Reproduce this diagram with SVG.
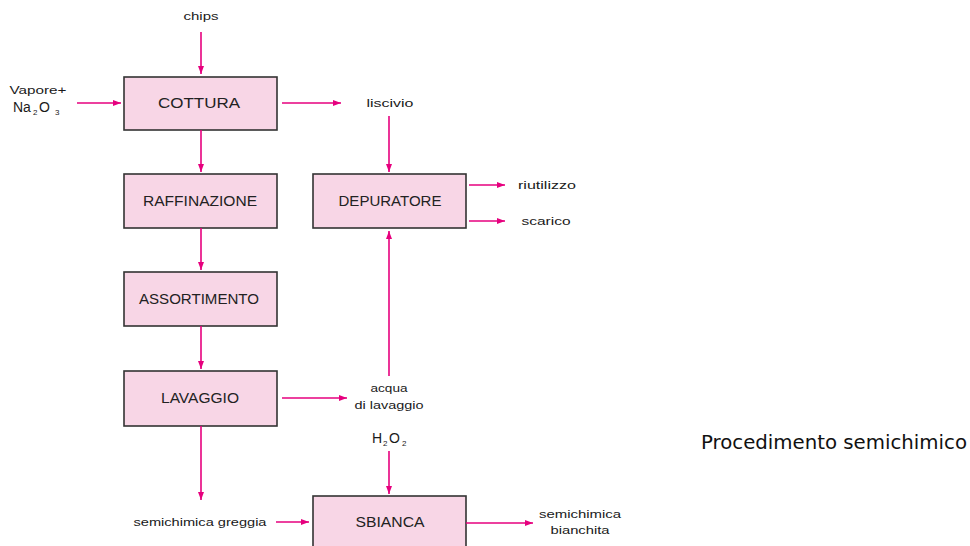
<svg xmlns="http://www.w3.org/2000/svg" width="970" height="546" viewBox="0 0 970 546">
  <style>
    .box { fill: #f8d6e6; stroke: #333333; stroke-width: 1.6; }
    .lbl { font-family: "Liberation Sans", Arial, sans-serif; font-size: 14px; fill: #222222; text-anchor: middle; }
    .sm { font-family: "Liberation Sans", Arial, sans-serif; font-size: 11.5px; fill: #1a1a1a; text-anchor: middle; }
    .chem { font-family: "Liberation Sans", Arial, sans-serif; font-size: 14px; fill: #1a1a1a; }
    .sub { font-size: 8px; }
    .flow { stroke: #e6007e; stroke-width: 1.6; fill: none; marker-end: url(#head); }
    .cap { font-family: "DejaVu Sans", Verdana, sans-serif; font-size: 19.5px; fill: #111111; }
  </style>
  <defs>
    <marker id="head" markerUnits="userSpaceOnUse" markerWidth="8" markerHeight="6" refX="8" refY="3" orient="auto">
      <path d="M0,0 L8,3 L0,6 z" fill="#e6007e"/>
    </marker>
  </defs>
  <rect width="970" height="546" fill="#ffffff"/>

  <!-- process steps -->
  <g id="cottura">
    <rect class="box" x="124" y="77" width="153" height="53"/>
    <text class="lbl" x="199" y="108" textLength="82" lengthAdjust="spacingAndGlyphs">COTTURA</text>
  </g>
  <g id="raffinazione">
    <rect class="box" x="124" y="174" width="153" height="54"/>
    <text class="lbl" x="200" y="206" textLength="114" lengthAdjust="spacingAndGlyphs">RAFFINAZIONE</text>
  </g>
  <g id="assortimento">
    <rect class="box" x="124" y="272" width="153" height="54"/>
    <text class="lbl" x="199" y="304" textLength="120" lengthAdjust="spacingAndGlyphs">ASSORTIMENTO</text>
  </g>
  <g id="lavaggio">
    <rect class="box" x="124" y="371" width="153" height="55"/>
    <text class="lbl" x="200" y="403" textLength="78" lengthAdjust="spacingAndGlyphs">LAVAGGIO</text>
  </g>
  <g id="depuratore">
    <rect class="box" x="313" y="174" width="153" height="54"/>
    <text class="lbl" x="390" y="206" textLength="103" lengthAdjust="spacingAndGlyphs">DEPURATORE</text>
  </g>
  <g id="sbianca">
    <rect class="box" x="313" y="496" width="153" height="56"/>
    <text class="lbl" x="390" y="527" textLength="69" lengthAdjust="spacingAndGlyphs">SBIANCA</text>
  </g>

  <!-- inputs and outputs -->
  <g id="chips"><text class="sm" x="201" y="20" textLength="35" lengthAdjust="spacingAndGlyphs">chips</text></g>
  <g id="vapore">
    <text class="sm" x="38" y="94" textLength="57" lengthAdjust="spacingAndGlyphs">Vapore+</text>
    <text class="chem" y="112"><tspan x="13">Na</tspan><tspan class="sub" x="33" y="115">2</tspan><tspan x="39" y="112">O</tspan><tspan class="sub" x="55" y="115">3</tspan></text>
  </g>
  <g id="liscivio"><text class="sm" x="390" y="107" textLength="47" lengthAdjust="spacingAndGlyphs">liscivio</text></g>
  <g id="riutilizzo"><text class="sm" x="547" y="189" textLength="58" lengthAdjust="spacingAndGlyphs">riutilizzo</text></g>
  <g id="scarico"><text class="sm" x="546" y="225" textLength="49" lengthAdjust="spacingAndGlyphs">scarico</text></g>
  <g id="acqua">
    <text class="sm" x="389" y="392" textLength="37" lengthAdjust="spacingAndGlyphs">acqua</text>
    <text class="sm" x="389" y="409" textLength="69" lengthAdjust="spacingAndGlyphs">di lavaggio</text>
  </g>
  <g id="h2o2"><text class="chem" y="443"><tspan x="372">H</tspan><tspan class="sub" x="383" y="446">2</tspan><tspan x="389" y="443">O</tspan><tspan class="sub" x="402" y="446">2</tspan></text></g>
  <g id="greggia"><text class="sm" x="200" y="526" textLength="133" lengthAdjust="spacingAndGlyphs">semichimica greggia</text></g>
  <g id="bianchita">
    <text class="sm" x="580" y="518" textLength="82" lengthAdjust="spacingAndGlyphs">semichimica</text>
    <text class="sm" x="580" y="534" textLength="59" lengthAdjust="spacingAndGlyphs">bianchita</text>
  </g>

  <!-- connectors -->
  <g id="connectors">
    <line class="flow" x1="201" y1="32" x2="201" y2="74"/>
    <line class="flow" x1="77" y1="103" x2="121" y2="103"/>
    <line class="flow" x1="282" y1="103" x2="341" y2="103"/>
    <line class="flow" x1="389" y1="116" x2="389" y2="172"/>
    <line class="flow" x1="201" y1="130" x2="201" y2="172"/>
    <line class="flow" x1="201" y1="228" x2="201" y2="270"/>
    <line class="flow" x1="201" y1="326" x2="201" y2="369"/>
    <line class="flow" x1="282" y1="398" x2="347" y2="398"/>
    <line class="flow" x1="389" y1="376" x2="389" y2="231"/>
    <line class="flow" x1="469" y1="185" x2="505" y2="185"/>
    <line class="flow" x1="469" y1="221" x2="505" y2="221"/>
    <line class="flow" x1="201" y1="426" x2="201" y2="500"/>
    <line class="flow" x1="276" y1="522" x2="309" y2="522"/>
    <line class="flow" x1="389" y1="451" x2="389" y2="494"/>
    <line class="flow" x1="466" y1="523" x2="533" y2="523"/>
  </g>

  <text class="cap" x="701" y="449" textLength="266" lengthAdjust="spacingAndGlyphs">Procedimento semichimico</text>
</svg>
